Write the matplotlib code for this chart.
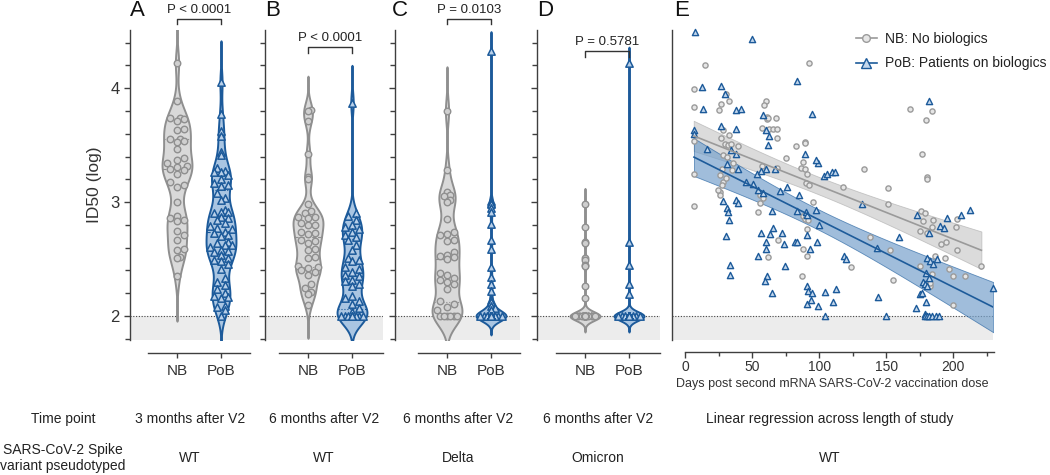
import numpy as np
import matplotlib
matplotlib.use("Agg")
import matplotlib.pyplot as plt
from matplotlib.ticker import MultipleLocator
from matplotlib.lines import Line2D

plt.rcParams['font.family'] = ['Liberation Sans', 'DejaVu Sans']

W, H = 1050, 475

# ---- data: ID50 (log) per group, panels A-D ----
a_nb = [4.22, 3.89, 3.74, 3.74, 3.73, 3.71, 3.64, 3.63, 3.55, 3.55, 3.54, 3.53, 3.47,
        3.39, 3.37, 3.34, 3.32, 3.31, 3.29, 3.28, 3.25, 3.18, 3.15, 3.13, 3.00, 2.88,
        2.86, 2.84, 2.83, 2.75, 2.71, 2.67, 2.59, 2.58, 2.52, 2.51, 2.35]
a_pob = [4.05, 3.77, 3.62, 3.58, 3.44, 3.41, 3.30, 3.27, 3.26, 3.26, 3.24, 3.20, 3.17,
         3.15, 3.14, 3.08, 3.04, 3.02, 2.93, 2.91, 2.91, 2.90, 2.87, 2.86, 2.84, 2.82,
         2.79, 2.77, 2.76, 2.74, 2.73, 2.71, 2.70, 2.65, 2.64, 2.62, 2.62, 2.61, 2.58,
         2.57, 2.56, 2.54, 2.51, 2.49, 2.48, 2.46, 2.41, 2.33, 2.30, 2.27, 2.24, 2.20,
         2.18, 2.17, 2.16, 2.09, 2.08, 2.05, 2.00]
b_nb = [3.81, 3.80, 3.71, 3.42, 3.22, 3.20, 2.98, 2.92, 2.90, 2.87, 2.87, 2.86, 2.82,
        2.80, 2.80, 2.74, 2.73, 2.72, 2.67, 2.66, 2.64, 2.59, 2.58, 2.52, 2.51, 2.44,
        2.43, 2.42, 2.40, 2.39, 2.36, 2.28, 2.25, 2.21, 2.19, 2.10]
b_pob = [3.87, 2.90, 2.88, 2.84, 2.80, 2.78, 2.76, 2.74, 2.71, 2.69, 2.67, 2.62, 2.58,
         2.51, 2.49, 2.48, 2.43, 2.41, 2.39, 2.36, 2.35, 2.32, 2.31, 2.28, 2.26, 2.18,
         2.16, 2.13, 2.11, 2.07, 2.04] + [2.00] * 9
c_nb = [3.80, 3.28, 3.09, 3.06, 3.05, 3.02, 3.00, 2.85, 2.74, 2.72, 2.71, 2.67, 2.66,
        2.56, 2.54, 2.53, 2.52, 2.50, 2.38, 2.36, 2.33, 2.32, 2.30, 2.28, 2.24, 2.13,
        2.11, 2.08, 2.05] + [2.00] * 6
c_pob = [4.33, 3.01, 2.99, 2.98, 2.95, 2.91, 2.81, 2.67, 2.59, 2.43, 2.34, 2.28, 2.22,
         2.14, 2.12, 2.09, 2.07, 2.05] + [2.00] * 28
d_nb = [2.98, 2.78, 2.65, 2.64, 2.51, 2.49, 2.45, 2.44, 2.26, 2.16] + [2.00] * 30
d_pob = [4.22, 2.65, 2.45, 2.28, 2.19] + [2.00] * 35

groups = ['NB', 'PoB']
p_values = ['P < 0.0001', 'P < 0.0001', 'P = 0.0103', 'P = 0.5781']
panel_letters = ['A', 'B', 'C', 'D', 'E']
time_points = ['3 months after V2', '6 months after V2', '6 months after V2',
               '6 months after V2', 'Linear regression across length of study']
variants = ['WT', 'WT', 'Delta', 'Omicron', 'WT']

# ---- data: panel E, days post dose 2 vs ID50 (log) ----
nb_days = [14.7, 92.7, 6.5, 6.5, 30.3, 26.6, 25.6, 32.5, 60.6, 58.9, 60.9, 60.9, 61.6,
           67.8, 57.6, 62.9, 65.8, 68.3, 68.8, 82.7, 89.7, 89.7, 167.5, 183.9, 179.9,
           176.9, 180.6, 180.6, 6.5, 6.5, 6.5, 28.6, 32.8, 26.6, 29.8, 32.3, 34.3, 39.8,
           28.6, 31.6, 27.8, 35.3, 28.6, 30.6, 27.3, 26.3, 26.3, 36.0, 57.6, 68.3, 75.3,
           86.5, 89.4, 88.2, 90.7, 89.9, 92.7, 95.6, 117.5, 133.7, 151.6, 151.6, 56.2,
           57.9, 56.2, 54.7, 88.2, 89.7, 92.0, 90.7, 69.6, 88.2, 90.7, 61.6, 87.2, 124.0,
           137.9, 152.8, 154.8, 175.7, 178.9, 177.6, 185.1, 183.9, 175.2, 180.6, 202.5,
           201.7, 190.8, 194.5, 202.5, 194.0, 197.0, 199.5, 208.4, 220.9, 199.5, 174.9,
           182.6, 182.6, 183.9, 186.3, 26.1, 24.3]
nb_id50 = [4.20, 4.22, 3.99, 3.83, 3.95, 3.86, 3.81, 3.89, 3.89, 3.85, 3.75, 3.73, 3.74,
           3.74, 3.65, 3.64, 3.64, 3.64, 3.56, 3.49, 3.53, 3.52, 3.82, 3.80, 3.72,
           3.42, 3.22, 3.20, 3.54, 3.25, 2.97, 3.63, 3.59, 3.56, 3.51, 3.50, 3.51, 3.49,
           3.41, 3.40, 3.29, 3.28, 3.18, 3.21, 3.15, 3.09, 3.06, 3.34, 3.32, 3.30, 3.39,
           3.30, 3.29, 3.35, 3.25, 3.17, 3.15, 3.00, 3.13, 3.29, 3.12, 2.98, 3.06,
           3.04, 2.99, 2.91, 2.88, 2.85, 2.84, 2.76, 2.67, 2.59, 2.53, 2.52, 2.35, 2.43,
           2.69, 2.58, 2.32, 2.92, 2.90, 2.83, 2.84, 2.78, 2.75, 2.73, 2.85,
           2.78, 2.63, 2.65, 2.58, 2.51, 2.41, 2.35, 2.35, 2.44, 2.10, 2.44,
           2.26, 2.29, 2.37, 2.53, 3.24, 3.11]
pob_days = [7.5, 49.7, 12.9, 26.6, 29.8, 13.7, 37.8, 41.5, 83.7, 95.0, 181.6, 57.9, 6.7,
            6.7, 26.6, 37.8, 16.6, 60.6, 62.9, 61.6, 34.3, 37.8, 31.6, 39.3, 53.9, 56.6,
            60.6, 66.8, 45.7, 50.9, 54.7, 58.4, 70.8, 75.8, 84.7, 28.6, 31.6, 32.0, 32.8,
            37.8, 39.8, 65.1, 83.5, 89.9, 90.7, 97.6, 99.6, 89.7, 98.9, 97.4, 103.6,
            105.6, 109.3, 111.8, 132.2, 30.8, 56.6, 63.6, 65.8, 72.0, 60.6, 60.6, 54.7,
            73.8, 82.2, 83.7, 90.7, 92.9, 98.4, 33.8, 33.8, 61.4, 59.6, 74.5, 64.6, 90.7,
            91.7, 95.0, 90.7, 93.7, 98.9, 104.6, 104.6, 110.6, 112.5, 118.5, 120.0,
            142.9, 143.9, 149.8, 159.8, 172.7, 181.6, 180.1, 182.6, 185.1, 187.6, 190.0,
            193.0, 195.5, 206.0, 212.7, 177.6, 178.9, 180.0, 179.7, 182.0, 175.2, 176.9,
            171.9, 179.7, 179.2, 178.9, 180.6, 182.1, 184.4, 186.9, 189.1, 229.8]
pob_id50 = [4.49, 4.43, 4.01, 4.02, 3.95, 3.82, 3.81, 3.82, 4.06, 3.77, 3.89, 3.76, 3.63,
            3.60, 3.67, 3.64, 3.47, 3.63, 3.58, 3.50, 3.46, 3.42, 3.33, 3.29, 3.25, 3.27,
            3.29, 3.29, 3.18, 3.16, 3.11, 3.08, 3.10, 3.13, 3.06, 3.01, 2.95, 2.91, 2.84,
            3.02, 2.99, 2.92, 2.92, 2.91, 2.89, 2.93, 2.80, 3.42, 3.34, 3.37, 3.23,
            3.25, 3.26, 3.26, 2.98, 2.70, 2.73, 2.72, 2.77, 2.73, 2.65, 2.59, 2.53,
            2.63, 2.65, 2.65, 2.71, 2.59, 2.65, 2.45, 2.36, 2.35, 2.31, 2.44, 2.20, 2.26,
            2.22, 2.20, 2.11, 2.14, 2.09, 2.21, 2.00, 2.12, 2.24, 2.53, 2.50,
            2.60, 2.17, 2.00, 2.69, 2.89, 2.73, 2.51, 2.48, 2.46, 2.50, 2.79,
            2.77, 2.86, 2.89, 2.93, 2.30, 2.28, 2.26, 2.38, 2.33, 2.19, 2.20,
            2.07, 2.12, 2.02, 2.00, 2.00, 2.00, 2.00, 2.00, 2.00, 2.25]

# ---- style ----
NB_FACE, NB_EDGE = '#d9d9d9', '#8f8f8f'
NB_PT_FACE = '#cfcfcf'
POB_FACE, POB_EDGE = '#a9c5e2', '#1c5a9a'
POB_PT_FACE = '#b9d0e9'
SPINE = '#3f3f3f'
SHADE = '#ececec'
YLIM = (1.79, 4.51)
PX_UNIT = 44.0  # pixels per x unit in violin panels
Y0, Y1 = 30, 340  # axes top / bottom in pixels


def px_axes(left, right):
    return [left / W, 1 - Y1 / H, (right - left) / W, (Y1 - Y0) / H]


def violin(ax, vals, pos, face, edge, maxw=0.34):
    v = np.asarray(vals, float)
    n = len(v)
    q1, med, q3 = np.percentile(v, [25, 50, 75])
    spread = min(v.std(ddof=1), (q3 - q1) / 1.34)
    sbw = max(0.9 * spread * n ** -0.2, 0.07)
    bw = 0.55 * sbw
    grid = np.linspace(v.min() - 2 * sbw, v.max() + 2 * sbw, 800)
    dens = np.exp(-0.5 * ((grid[:, None] - v[None, :]) / bw) ** 2).sum(1)
    w = dens / dens.max() * maxw
    ax.fill_betweenx(grid, pos - w, pos + w, facecolor=face, edgecolor=edge,
                     lw=1.4, zorder=2)
    for q, ls in ((q1, ':'), (med, '--'), (q3, ':')):
        hw = np.interp(q, grid, w)
        ax.plot([pos - hw, pos + hw], [q, q], color=edge, lw=0.8, ls=ls, zorder=2.5)
    return lambda y: np.interp(y, grid, w)


def swarm(vals, pos, halfw, dx=0.15, dy=0.058):
    v = np.asarray(vals, float)
    xs = np.full(len(v), float(pos))
    placed = []
    step = dx / 2
    for i in np.argsort(v, kind='stable'):
        y = v[i]
        lim = max(halfw(y) * 0.8, 0.0)
        cands = [0.0]
        k = 1
        while k * step <= lim + 1e-9:
            cands += [k * step, -k * step]
            k += 1
        best, best_d = 0.0, -1.0
        for c in cands:
            d = min(((c - px) / dx) ** 2 + ((y - py) / dy) ** 2 for px, py in placed) if placed else 9.0
            if d >= 1:
                best = c
                break
            if d > best_d:
                best, best_d = c, d
        placed.append((best, y))
        xs[i] = pos + best
    return xs


def style_left(ax, labels):
    for s in ('top', 'right'):
        ax.spines[s].set_visible(False)
    for s in ('left', 'bottom'):
        ax.spines[s].set_color(SPINE)
        ax.spines[s].set_linewidth(1.0)
    ax.set_ylim(*YLIM)
    ax.yaxis.set_major_locator(MultipleLocator(1))
    ax.yaxis.set_minor_locator(MultipleLocator(0.2))
    ax.tick_params(axis='y', which='major', length=4.5, width=1.0, color=SPINE,
                   labelsize=12, labelcolor='#333333', labelleft=labels, pad=3)
    ax.tick_params(axis='y', which='minor', length=3.5, width=1.0, color=SPINE)


fig = plt.figure(figsize=(W / 100, H / 100), dpi=100)

violin_panels = [
    (a_nb, a_pob, 130, 250, 177, 4.61, 4.56, 4.63),
    (b_nb, b_pob, 265, 383, 308, 4.36, 4.31, 4.385),
    (c_nb, c_pob, 395, 520, 447, 4.61, 4.56, 4.63),
    (d_nb, d_pob, 537, 660, 585, 4.325, 4.275, 4.35),
]

for k, (nb, pob, left, right, nbx, yb, yl, yt) in enumerate(violin_panels):
    ax = fig.add_axes(px_axes(left, right))
    ax.set_xlim(-(nbx - left) / PX_UNIT, (right - nbx) / PX_UNIT)
    ax.axhspan(YLIM[0], 2, color=SHADE, lw=0, zorder=0)
    ax.axhline(2, color='#444444', lw=0.8, ls=(0, (1, 1.5)), zorder=1)

    hw_nb = violin(ax, nb, 0, NB_FACE, NB_EDGE)
    hw_pob = violin(ax, pob, 1, POB_FACE, POB_EDGE)
    ax.scatter(swarm(nb, 0, hw_nb), nb, s=22, marker='o', facecolor=NB_PT_FACE,
               edgecolor=NB_EDGE, lw=1.0, zorder=3, clip_on=False)
    ax.scatter(swarm(pob, 1, hw_pob, dx=0.16), pob, s=28, marker='^',
               facecolor=POB_PT_FACE, edgecolor=POB_EDGE, lw=1.1, zorder=3, clip_on=False)

    style_left(ax, k == 0)
    ax.spines['bottom'].set_position(('outward', 9.5))
    ax.spines['bottom'].set_bounds(-(29) / PX_UNIT, (right - nbx) / PX_UNIT)
    ax.set_xticks([0, 1])
    ax.set_xticklabels(groups)
    ax.tick_params(axis='x', length=3.5, width=1.0, color=SPINE, labelsize=11,
                   labelcolor='#333333', pad=4)
    if k == 0:
        ax.set_ylabel('ID50 (log)', fontsize=12.5, color='#333333', labelpad=6)

    # significance bracket
    ax.plot([0, 0, 1, 1], [yl, yb, yb, yl], color='#333333', lw=1.0,
            clip_on=False, zorder=4)
    ax.text(0.5, yt, p_values[k], ha='center', va='bottom', fontsize=9.5,
            color='#222222', clip_on=False)

# ---- panel E ----
E_LEFT, E_RIGHT = 672, 993
axe = fig.add_axes(px_axes(E_LEFT, E_RIGHT))
E_X0 = 685
E_PX = 1.3417
axe.set_xlim((E_LEFT - E_X0) / E_PX, (E_RIGHT - E_X0) / E_PX)
axe.axhspan(YLIM[0], 2, color=SHADE, lw=0, zorder=0)
axe.axhline(2, color='#444444', lw=0.8, ls=(0, (1, 1.5)), zorder=1)


def fit_band(x, y):
    x = np.asarray(x, float)
    y = np.asarray(y, float)
    n = len(x)
    b, a = np.polyfit(x, y, 1)
    xs = np.linspace(x.min(), x.max(), 200)
    yh = a + b * xs
    s = np.sqrt(((y - (a + b * x)) ** 2).sum() / (n - 2))
    sxx = ((x - x.mean()) ** 2).sum()
    se = s * np.sqrt(1 / n + (xs - x.mean()) ** 2 / sxx)
    return xs, yh, 1.98 * se


for days, vals, face, edge, alpha in ((nb_days, nb_id50, '#cfcfcf', '#b5b5b5', 0.75),
                                      (pob_days, pob_id50, '#78a2cc', '#2a66a3', 0.7)):
    xs, yh, ci = fit_band(days, vals)
    axe.fill_between(xs, yh - ci, yh + ci, facecolor=face, edgecolor=edge, lw=0.6,
                     alpha=alpha, zorder=1.5)

axe.scatter(nb_days, nb_id50, s=14, marker='o', facecolor='#e6e6e6',
            edgecolor='#9b9b9b', lw=1.0, zorder=3, clip_on=False)
axe.scatter(pob_days, pob_id50, s=20, marker='^', facecolor='#c3d7ec',
            edgecolor=POB_EDGE, lw=1.0, zorder=3.5, clip_on=False)

for days, vals, color in ((nb_days, nb_id50, '#9a9a9a'), (pob_days, pob_id50, '#1d5b9a')):
    xs, yh, ci = fit_band(days, vals)
    axe.plot(xs, yh, color=color, lw=1.2, zorder=4)

for s in ('top', 'right'):
    axe.spines[s].set_visible(False)
for s in ('left', 'bottom'):
    axe.spines[s].set_color(SPINE)
    axe.spines[s].set_linewidth(1.0)
axe.set_ylim(*YLIM)
axe.tick_params(axis='y', left=False, labelleft=False)
axe.spines['bottom'].set_position(('outward', 8.6))
axe.spines['bottom'].set_bounds(0, 230)
axe.xaxis.set_major_locator(MultipleLocator(50))
axe.xaxis.set_minor_locator(MultipleLocator(25))
axe.tick_params(axis='x', which='major', length=4, width=1.0, color=SPINE,
                labelsize=10, labelcolor='#333333', pad=2)
axe.tick_params(axis='x', which='minor', length=3, width=1.0, color=SPINE)
axe.set_xlabel('Days post second mRNA SARS-CoV-2 vaccination dose', fontsize=9,
               color='#333333', labelpad=3)

handles = [Line2D([], [], color='#9a9a9a', marker='o', markersize=5.5,
                  markerfacecolor='#e6e6e6', markeredgecolor='#9b9b9b', lw=1.2),
           Line2D([], [], color='#1d5b9a', marker='^', markersize=6.5,
                  markerfacecolor='#c3d7ec', markeredgecolor=POB_EDGE, lw=1.2)]
fig.legend(handles, ['NB: No biologics', 'PoB: Patients on biologics'],
           loc='upper left', bbox_to_anchor=(856 / W, 1 - 32 / H), frameon=False,
           fontsize=10, handlelength=1.5, handletextpad=0.6, labelspacing=0.75,
           borderpad=0, borderaxespad=0, labelcolor='#222222')

# ---- panel letters ----
for letter, left in zip(panel_letters, [130, 265, 392, 537, 674]):
    fig.text(left / W, 1 - 11 / H, letter, fontsize=16, ha='left', va='center',
             color='#111111')

# ---- bottom table ----
centers = [190, 324, 458, 598, 830]
fig.text(63 / W, 1 - 419 / H, 'Time point', ha='center', va='center', fontsize=10,
         color='#222222')
fig.text(63 / W, 1 - 458 / H, 'SARS-CoV-2 Spike\nvariant pseudotyped', ha='center',
         va='center', fontsize=10, color='#222222', linespacing=1.25)
for cx, tp, var in zip(centers, time_points, variants):
    fig.text(cx / W, 1 - 419 / H, tp, ha='center', va='center', fontsize=10,
             color='#222222')
    fig.text(cx / W, 1 - 458 / H, var, ha='center', va='center', fontsize=10,
             color='#222222')

fig.savefig('out.png', dpi=100)
